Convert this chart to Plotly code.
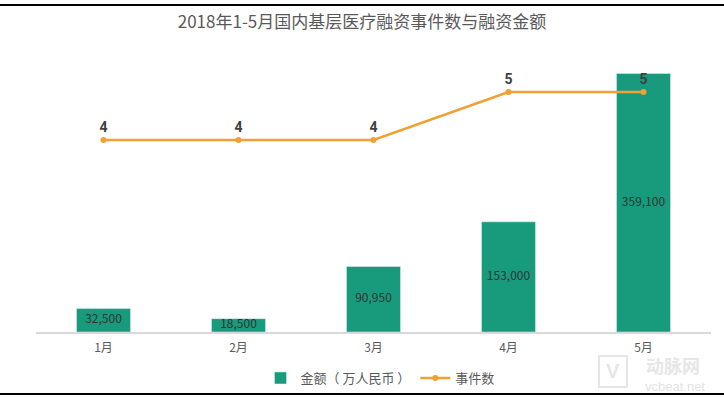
import plotly.graph_objects as go

months = ["1月", "2月", "3月", "4月", "5月"]
amounts = [32500, 18500, 90950, 153000, 359100]
counts = [4, 4, 4, 5, 5]
amount_labels = ["32,500", "18,500", "90,950", "153,000", "359,100"]

W, H = 724, 398
ml, mr, mt, mb = 36, 13, 44, 66
pw, ph = W - ml - mr, H - mt - mb

def px(x):
    return (x - ml) / pw

def py(y):
    return (H - mb - y) / ph

font_cjk = "Noto Sans CJK SC, Noto Sans, sans-serif"
teal = "#179B7C"
orange = "#F1A035"

fig = go.Figure()
fig.add_trace(go.Bar(
    x=months, y=amounts, name="金额（ 万人民币 ）", marker_color=teal,
    width=0.4, hoverinfo="skip",
))
fig.add_trace(go.Scatter(
    x=months, y=[a / 2 for a in amounts], mode="text", text=amount_labels,
    textfont=dict(size=12, color="#333333", family=font_cjk),
    showlegend=False, hoverinfo="skip",
))
fig.add_trace(go.Scatter(
    x=months, y=counts, name="事件数", yaxis="y2", mode="lines+markers+text",
    line=dict(color=orange, width=2.5), marker=dict(size=6, color=orange),
    text=[str(c) for c in counts], textposition="top center",
    textfont=dict(size=14, color="#404040", family="Liberation Sans Narrow, Roboto, sans-serif", weight="bold"),
    hoverinfo="skip",
))

fig.update_layout(
    width=W, height=H,
    margin=dict(l=ml, r=mr, t=mt, b=mb, autoexpand=False),
    paper_bgcolor="white", plot_bgcolor="white",
    title=dict(text="2018年1-5月国内基层医疗融资事件数与融资金额", x=0.5, xanchor="center",
               y=1 - 22 / H, yanchor="middle",
               font=dict(size=17, color="#595959", family=font_cjk)),
    xaxis=dict(range=[-0.5, 4.5], showline=True, linecolor="#d9d9d9", linewidth=2, ticks="",
               tickfont=dict(size=12, color="#595959", family=font_cjk), ticklabelstandoff=4,
               showgrid=False, zeroline=False),
    yaxis=dict(range=[0, 400000], visible=False, showgrid=False, zeroline=False),
    yaxis2=dict(range=[0, 6], overlaying="y", visible=False, showgrid=False, zeroline=False),
    legend=dict(orientation="h", x=px(380), xanchor="center", y=py(378), yanchor="middle",
                font=dict(size=13, color="#595959", family=font_cjk), itemwidth=30,
                tracegroupgap=0),
    bargap=0.6,
    shapes=[
        dict(type="line", xref="paper", yref="paper", x0=px(0), x1=px(W), y0=py(5), y1=py(5),
             line=dict(color="black", width=2)),
        dict(type="line", xref="paper", yref="paper", x0=px(0), x1=px(W), y0=py(394), y1=py(394),
             line=dict(color="black", width=2)),
        dict(type="rect", xref="paper", yref="paper", x0=px(599), x1=px(627), y0=py(356), y1=py(387),
             line=dict(color="#e6e6e6", width=2), fillcolor="rgba(0,0,0,0)", layer="below"),
    ],
    annotations=[
        dict(text="动脉网", xref="paper", yref="paper", x=px(673), y=py(365), showarrow=False,
             xanchor="center", yanchor="middle",
             font=dict(size=18, color="#e6e6e6", family=font_cjk, weight="bold")),
        dict(text="vcbeat.net", xref="paper", yref="paper", x=px(675), y=py(386), showarrow=False,
             xanchor="center", yanchor="middle",
             font=dict(size=13, color="#e3e3e3", family="Liberation Sans, sans-serif")),
        dict(text="V", xref="paper", yref="paper", x=px(613), y=py(371), showarrow=False,
             xanchor="center", yanchor="middle",
             font=dict(size=20, color="#e6e6e6", family="Liberation Sans, sans-serif", weight="bold")),
    ],
)

fig.write_html("out.html", config={"displayModeBar": False},
               post_script="document.body.style.margin='0';document.body.style.overflow='hidden';")
